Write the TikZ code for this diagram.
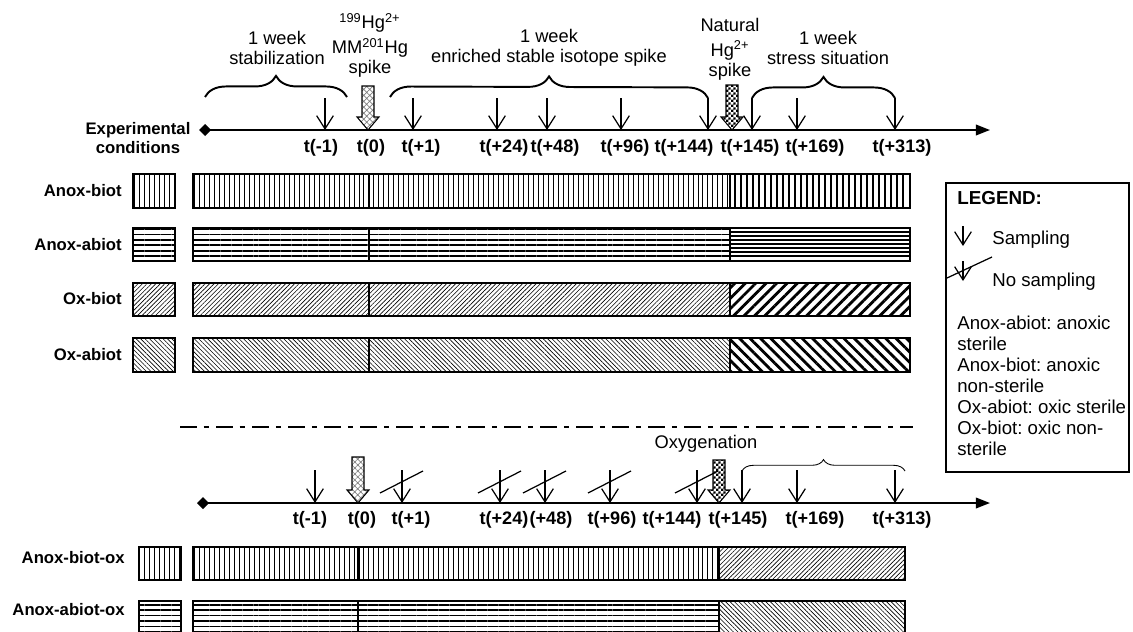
\documentclass[tikz,border=0pt]{standalone}
\usepackage{fontspec}
\setmainfont{Liberation Sans}
\usetikzlibrary{arrows.meta, patterns, patterns.meta, decorations.pathreplacing}
\lineskiplimit=-\maxdimen
\frenchspacing

% small dark checkerboard for the spike arrows
\pgfdeclarepatternformonly{fine checker}{\pgfpointorigin}{\pgfqpoint{3pt}{3pt}}{\pgfqpoint{3pt}{3pt}}{%
  \pgfpathrectangle{\pgfpointorigin}{\pgfqpoint{1.5pt}{1.5pt}}%
  \pgfpathrectangle{\pgfqpoint{1.5pt}{1.5pt}}{\pgfqpoint{1.5pt}{1.5pt}}%
  \pgfusepath{fill}}

% fat spike arrow: x, top y, tip y, pattern
\newcommand{\spikearrow}[4]{%
  \draw[line width=0.6pt, pattern=#4]
    (#1-6,#2) -- (#1+6,#2) -- (#1+6,#3-13) -- (#1+11,#3-13)
    -- (#1,#3) -- (#1-11,#3-13) -- (#1-6,#3-13) -- cycle;}

\begin{document}
\begin{tikzpicture}[x=0.02cm, y=-0.02cm,
    week_format/.style={align=center, font=\fontsize{10.4}{11.2}\selectfont},
    time_format/.style={font=\fontsize{10.3}{12}\selectfont\bfseries, inner sep=0pt},
    row_format/.style={font=\fontsize{9.5}{11}\selectfont\bfseries, anchor=east, inner sep=0pt},
    legend_format/.style={font=\fontsize{10.6}{11.9}\selectfont, inner sep=0pt},
    sample_arrow/.style={line width=0.7pt, -{Straight Barb[length=7.5pt, width=9.5pt]}},
    cross_line/.style={line width=0.7pt},
    time_axis/.style={line width=1pt, -{Triangle[length=8pt, width=6pt]}},
    week_brace/.style={decorate, decoration={brace, amplitude=12pt}, line width=1.1pt},
    bar_frame/.style={line width=1.1pt},
    swatch_frame/.style={line width=0.6pt},
    bold_rule/.style={line width=1.135pt},
    vert_fine/.style={pattern={Lines[angle=90, distance=2.8375pt, line width=0.5pt]}},
    horiz_fine/.style={pattern={Lines[angle=0, distance=3.1pt, line width=0.9pt]}},
    ne_fine/.style={pattern={Lines[angle=45, distance=1.8pt, line width=0.35pt]}},
    ne_bold/.style={pattern={Lines[angle=45, distance=4.2pt, line width=1.6pt]}},
    nw_fine/.style={pattern={Lines[angle=-45, distance=1.8pt, line width=0.35pt]}},
    nw_bold/.style={pattern={Lines[angle=-45, distance=4.2pt, line width=1.6pt]}},
    ]

    \useasboundingbox (0,0) rectangle (1133,632);

    % --- Top timeline ---
    \node[font=\fontsize{9.5}{10.5}\selectfont\bfseries, align=center] (exp_cond) at (138,138) {Experimental\\conditions};
    \fill (199,130) -- (205,124) -- (211,130) -- (205,136) -- cycle;
    \draw[time_axis] (205,130) -- (990,130);

    \foreach \x in {325,413,497,547,621,708,752,797,895}
      \draw[sample_arrow] (\x,98) -- (\x,130);
    \spikearrow{368}{86}{130}{{Hatch[angle=45, distance=2.4pt, line width=0.4pt]}, pattern color=gray}
    \spikearrow{732}{85}{130}{fine checker}

    \foreach \x/\t [count=\i] in {321/t(-1), 371/t(0), 421/t(+1), 504/t(+24), 555/t(+48),
        625/t(+96), 684/t(+144), 750/t(+145), 815/t(+169), 902/t(+313)}
      \node[time_format] (top_\i) at (\x,148) {\t};

    % braces and their texts
    \draw[week_brace] (205,97) -- (347,97);
    \draw[week_brace] (390,97) -- (708,98);
    \draw[week_brace] (752,98) -- (895,98);
    \node[week_format] (stab_text) at (277,48) {1 week\\stabilization};
    \node[week_format] (enrich_text) at (549,48) {1 week\\enriched stable isotope spike};
    \node[week_format] (stress_text) at (828,48) {1 week\\stress situation};
    \node[week_format] (spike_text) at (370,45) {\textsuperscript{199}Hg\textsuperscript{2+}\\[3pt]MM\textsuperscript{201}Hg\\spike};
    \node[week_format] (natural_text) at (730,49) {Natural\\[3pt]Hg\textsuperscript{2+}\\spike};

    % --- Top bars ---
    % Anox-biot
    \fill[vert_fine] (193,174) rectangle (730,208);
    \foreach \x in {735,741,...,907}
      \draw[bold_rule] (\x,174) -- (\x,208);
    \draw[bar_frame] (193,174) rectangle (910,208) (369,174) -- (369,208) (730,174) -- (730,208);
    \draw[swatch_frame, vert_fine] (133,174) rectangle (175,208);
    \node[row_format] (anox_biot) at (122,191) {Anox-biot};
    % Anox-abiot
    \fill[horiz_fine] (193,228) rectangle (730,261);
    \foreach \y in {232,236,...,258}
      \draw[bold_rule] (730,\y) -- (910,\y);
    \draw[bar_frame] (193,228) rectangle (910,261) (369,228) -- (369,261) (730,228) -- (730,261);
    \draw[swatch_frame, horiz_fine] (133,228) rectangle (175,261);
    \node[row_format] (anox_abiot) at (122,245) {Anox-abiot};
    % Ox-biot
    \fill[ne_fine] (193,283) rectangle (730,316);
    \fill[ne_bold] (730,283) rectangle (910,316);
    \draw[bar_frame] (193,283) rectangle (910,316) (369,283) -- (369,316) (730,283) -- (730,316);
    \draw[swatch_frame, ne_fine] (133,283) rectangle (175,316);
    \node[row_format] (ox_biot) at (122,299) {Ox-biot};
    % Ox-abiot
    \fill[nw_fine] (193,338) rectangle (730,372);
    \fill[nw_bold] (730,338) rectangle (910,372);
    \draw[bar_frame] (193,338) rectangle (910,372) (369,338) -- (369,372) (730,338) -- (730,372);
    \draw[swatch_frame, nw_fine] (133,338) rectangle (175,372);
    \node[row_format] (ox_abiot) at (122,355) {Ox-abiot};

    % --- Separator ---
    \draw[line width=1.7pt, dash pattern=on 9.5pt off 4pt on 3pt off 4pt] (180,427) -- (913,427);

    % --- Bottom timeline ---
    \node[week_format] (oxy_text) at (706,444) {Oxygenation};
    \fill (197,503) -- (203,497) -- (209,503) -- (203,509) -- cycle;
    \draw[time_axis] (203,503) -- (990,503);

    \foreach \x in {315,742,797,895}
      \draw[sample_arrow] (\x,470) -- (\x,503);
    \foreach \x in {402,500,545,610,697} {
      \draw[sample_arrow] (\x,470) -- (\x,503);
      \draw[cross_line] (\x-22,493) -- (\x+21,471);
    }
    \spikearrow{358}{457}{503}{{Hatch[angle=45, distance=2.4pt, line width=0.4pt]}, pattern color=gray}
    \spikearrow{719}{460}{503}{fine checker}
    \draw[week_brace, line width=0.5pt, decoration={brace, amplitude=6.5pt}] (742,471) -- (905,471);

    \foreach \x/\t [count=\i] in {310/t(-1), 362/t(0), 411/t(+1), 504/t(+24), 551/(+48),
        612/t(+96), 672/t(+144), 738/t(+145), 815/t(+169), 902/t(+313)}
      \node[time_format] (bot_\i) at (\x,520) {\t};

    % --- Bottom bars ---
    % Anox-biot-ox
    \fill[vert_fine] (193,547) rectangle (719,580);
    \fill[ne_fine] (719,547) rectangle (905,580);
    \draw[bar_frame] (193,547) rectangle (905,580) (358,547) -- (358,580) (719,547) -- (719,580);
    \draw[swatch_frame, vert_fine] (139,547) rectangle (181,580);
    \node[row_format] (anox_biot_ox) at (125,558) {Anox-biot-ox};
    % Anox-abiot-ox
    \fill[horiz_fine] (193,601) rectangle (719,634);
    \fill[nw_fine] (719,601) rectangle (905,634);
    \draw[bar_frame] (193,601) rectangle (905,634) (358,601) -- (358,634) (719,601) -- (719,634);
    \draw[swatch_frame, horiz_fine] (139,601) rectangle (181,634);
    \node[row_format] (anox_abiot_ox) at (125,610) {Anox-abiot-ox};

    % --- Legend ---
    \draw[line width=0.9pt] (946,183) rectangle (1129,472);
    \node[legend_format, font=\fontsize{10.7}{12}\selectfont\bfseries, anchor=west] (legend_title) at (957,198) {LEGEND:};
    \draw[sample_arrow] (963,226) -- (963,246);
    \node[legend_format, anchor=west] (leg_sample) at (992,240) {Sampling};
    \draw[sample_arrow] (963,261) -- (963,281);
    \draw[cross_line] (947,278) -- (992,257);
    \node[legend_format, anchor=west] (leg_nosample) at (992,282) {No sampling};
    \node[legend_format, anchor=north west, align=left] (leg_text) at (957,316) {
      Anox-abiot: anoxic\\
      sterile\\
      Anox-biot: anoxic\\
      non-sterile\\
      Ox-abiot: oxic sterile\\
      Ox-biot: oxic non-\\
      sterile
    };

  \end{tikzpicture}
\end{document}
